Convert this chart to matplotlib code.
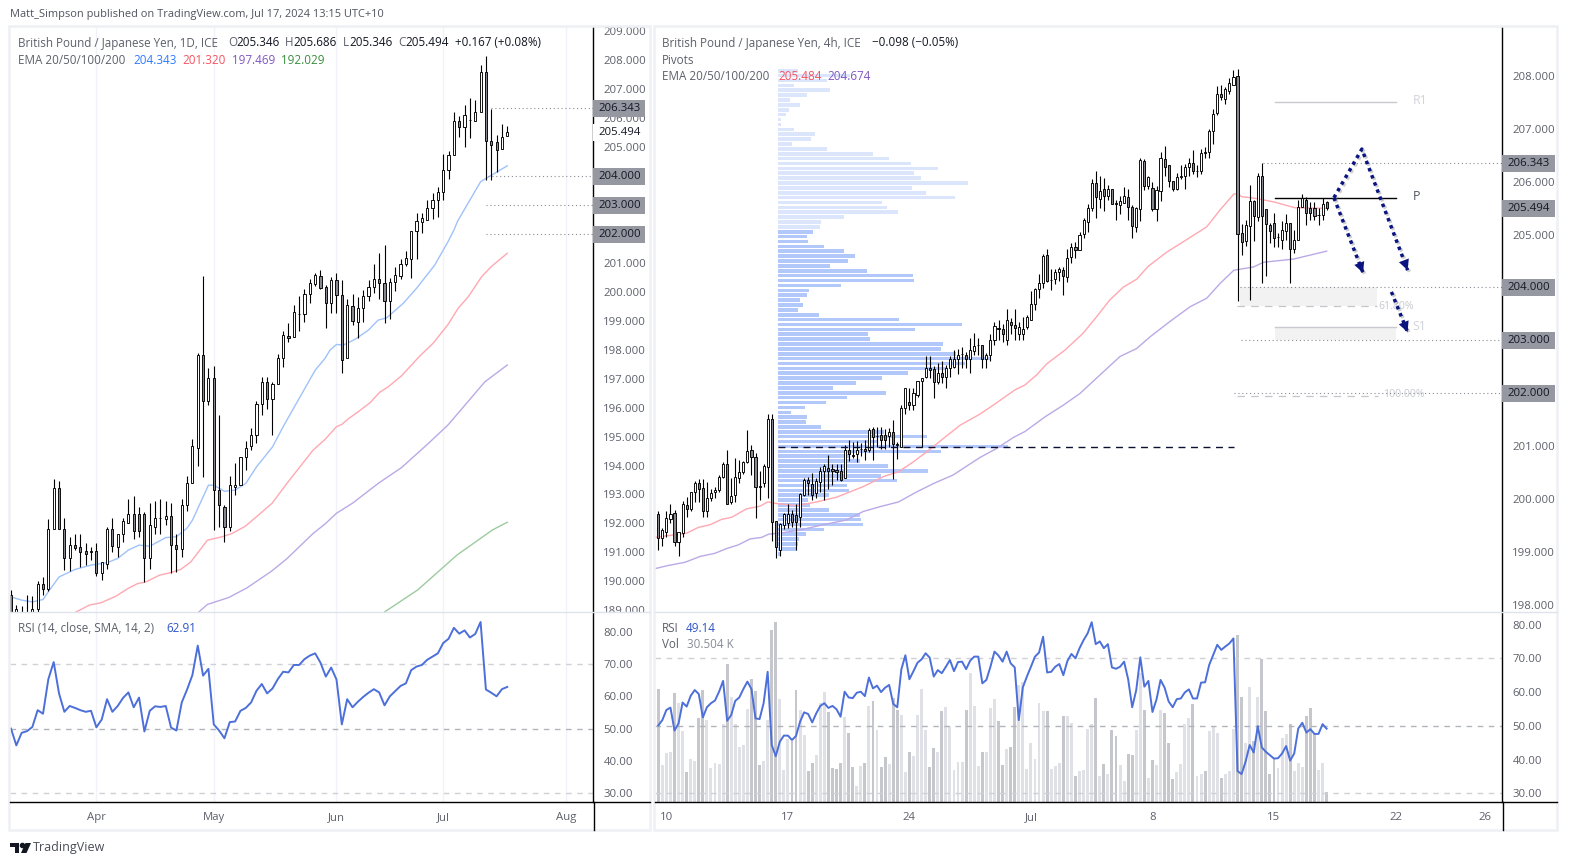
import numpy as np
import matplotlib
matplotlib.use("Agg")
import matplotlib.pyplot as plt
import matplotlib.patheffects as pe
from matplotlib.lines import Line2D
from matplotlib.patches import Rectangle, Polygon
from matplotlib.transforms import Bbox, TransformedBbox, ScaledTranslation

plt.rcParams['font.family'] = ['Open Sans', 'DejaVu Sans']

# daily candles
d_open = [189.47,188.7,188.4,188.5,188.8,189.0,189.85,189.7,191.75,193.2,191.78,190.78,191.23,191.16,190.99,190.99,190.99,190.26,190.56,191.75,
          191.15,191.58,191.99,192.3,192.27,192.27,190.75,191.85,192.13,192.12,192.2,191.23,191.08,192.58,193.34,194.58,197.76,196.2,196.97,193.1,
          192.54,191.85,193.22,193.27,194.27,194.62,195.03,196.1,196.86,196.24,196.76,197.66,198.43,198.4,199.18,199.2,199.9,200.22,200.5,200.11,
          199.56,200.37,199.84,197.66,199.46,198.93,199.39,199.8,200.11,200.39,200.25,199.65,200.29,200.49,200.91,201.08,202.05,202.36,202.44,202.84,
          203.12,203.39,204.16,204.67,205.85,205.66,205.89,205.85,206.16,207.54,205.16,205.12,204.88,205.346]
d_high = [189.65,189.15,189.1,189.47,189.45,189.96,190.1,192.1,193.48,193.44,192.16,191.5,191.61,191.58,191.3,191.16,191.27,190.64,191.85,192.16,
          191.58,192.13,192.79,192.89,192.51,192.34,192.65,192.75,192.79,192.72,192.65,191.61,192.79,193.58,194.89,197.86,200.5,197.32,197.38,195.69,
          192.58,193.61,194.06,194.24,194.79,195.27,196.2,197.0,197.0,196.86,197.8,198.59,198.87,199.5,199.83,200.04,200.39,200.6,200.71,200.18,
          200.46,200.6,200.37,199.7,199.9,199.77,200.02,200.37,200.92,201.29,201.57,200.45,200.8,201.09,201.36,202.05,202.69,202.67,203.13,203.38,
          203.57,204.72,204.82,206.17,206.03,206.41,206.64,206.58,207.79,208.1,206.29,205.37,205.75,205.686]
d_low = [188.5,188.4,188.2,188.2,188.5,188.9,189.5,189.63,191.75,191.77,190.34,190.32,191.03,190.46,190.52,190.69,190.15,190.01,190.39,190.98,
         190.8,191.32,191.99,191.43,191.5,189.93,190.39,191.61,191.61,191.89,190.26,190.29,190.8,192.39,193.34,193.95,193.57,196.06,191.73,191.82,
         191.32,191.71,192.95,193.27,193.81,194.48,194.72,195.7,195.9,195.0,196.76,197.37,198.23,198.4,198.6,198.9,199.58,200.16,200.04,198.7,
         199.21,199.21,197.17,197.66,198.81,198.37,198.93,199.65,199.93,199.7,198.89,199.03,199.99,200.41,200.85,200.45,201.08,201.98,202.44,202.47,
         202.55,203.13,203.85,204.67,205.29,204.97,205.28,205.85,206.16,203.82,203.82,204.11,204.88,205.346]
d_close = [188.8,189.0,188.7,188.7,189.0,189.85,189.7,191.78,193.2,191.77,190.78,191.23,191.12,190.98,190.92,190.96,190.26,190.61,191.75,191.18,
           191.58,192.03,192.3,191.71,191.71,190.75,191.89,192.16,192.13,192.2,191.23,191.08,192.58,193.37,194.62,197.76,196.2,196.97,193.1,192.58,
           191.85,193.27,193.3,194.24,194.58,195.03,196.1,196.86,196.24,196.76,197.66,198.45,198.38,199.26,199.2,199.9,200.25,200.54,200.1,199.56,
           200.37,199.84,197.62,199.49,198.96,199.39,199.8,200.11,200.39,200.25,199.65,200.29,200.53,200.92,201.11,202.05,202.39,202.5,202.84,203.12,
           203.39,204.16,204.67,205.85,205.66,206.05,205.89,206.16,207.54,205.16,205.02,204.85,205.3,205.494]

# daily EMAs, vertices (bar index, price)
d_ema20_x = [0,2,4,6,7,9,12,15,18,20,22,24,26,29,31,33,34,37,38,40,42,44,46,49,51,57,58.85,59.8,61,62.3,64.5,67,68.8,70.4,73.5,76,79.4,81.9,83,83.7,88,89.8,93]
d_ema20 = [189.42,189.31,189.25,189.33,189.6,190.11,190.37,190.52,190.6,190.75,191.04,191.21,191.17,191.47,191.5,191.8,192.07,193.28,193.28,193.07,193.11,193.34,193.91,194.6,195.3,197.25,197.66,197.95,198.14,198.12,198.32,198.64,198.98,199.06,199.56,200.08,200.88,201.69,202.09,202.4,203.76,203.96,204.31]
d_ema50_x = [12.2,14.7,16.9,19.7,21.9,23.7,25.3,27.8,29.9,31.8,33.7,36.8,39.6,41.4,43.9,46.7,48.9,51.7,56.6,58.85,61,62,63.2,65.1,67.3,69.1,70.7,73.2,76.6,79.1,81.9,83.8,85.7,88.2,90,93]
d_ema50 = [188.9,189.14,189.22,189.45,189.71,189.88,189.94,190.17,190.26,190.37,190.63,191.38,191.5,191.61,191.86,192.3,192.65,193.34,194.49,194.86,195.3,195.38,195.57,195.82,196.13,196.49,196.68,197.06,197.74,198.18,198.83,199.39,199.79,200.48,200.83,201.29]
d_ema100_x = [35.2,36.8,40.8,44.2,48.9,51.7,56.6,58.85,61,64.1,68.8,73.2,78.2,81.9,85.1,88.8,93]
d_ema100 = [188.9,189.16,189.4,189.73,190.32,190.74,191.61,191.94,192.31,192.67,193.34,193.89,194.72,195.36,196.05,196.85,197.43]
d_ema200_x = [70,76.2,83.6,90.2,93]
d_ema200 = [188.9,189.66,190.87,191.73,192.0]

d_rsi = [50,44.8,48.7,49.2,50.5,55.7,54.6,65.3,70.6,60.9,55.2,57,56.4,55.7,55.2,55.5,50.4,52.8,59.1,55.2,
         57,59.5,61.2,56.6,59.6,49.1,55.5,56.9,56.7,57,50.3,49.4,58.1,62.1,66.6,75.7,66.4,68.5,51.3,49.4,
         47,52,52.2,55.5,56.4,58.1,61.7,63.8,60.9,62.4,65.3,67.6,67.4,69.7,69.7,71.5,72.6,73.3,70.4,66.1,
         68.9,65.2,51.3,59.1,56.6,58.3,59.8,61.1,62.2,61.2,57.2,60,61.6,63.2,64,68.1,69.2,69.7,71.3,72.3,
         73.3,76.5,77.8,81.2,79.4,80.4,78.2,79.3,83,62.1,61.1,60,62.2,62.91]

d_xticks = [16,38,61,81,104]
d_xlabels = ['Apr','May','Jun','Jul','Aug']

# 4h candles
h_open = [199.7,199.24,199.37,199.61,199.72,199.18,199.35,199.87,199.79,200.11,200.28,200.2,199.75,200.01,200.11,200.15,200.41,200.65,199.92,200.06,
          200.39,200.49,200.69,200.91,200.78,200.23,200.28,200.59,201.49,199.57,199.02,199.49,199.53,199.7,199.68,199.65,200.07,200.34,200.26,200.09,
          200.31,200.51,200.58,200.55,200.53,200.51,200.38,200.92,200.82,200.83,200.94,200.94,200.91,201.3,201.18,201.19,201.19,201.17,201.25,201.02,
          200.96,201.7,201.81,201.76,201.96,202.22,202.29,202.46,202.44,202.19,202.36,202.3,202.46,202.49,202.63,202.72,202.7,202.63,202.78,202.9,
          202.89,202.64,202.7,203.0,203.22,203.19,203.0,203.34,203.27,203.1,203.1,203.23,203.37,203.68,203.95,204.06,204.59,204.13,204.15,204.27,
          204.31,204.19,204.56,204.74,204.7,204.99,205.22,205.49,205.95,205.65,205.84,205.72,205.84,205.58,205.55,205.58,205.69,205.5,205.13,205.46,
          206.37,205.91,205.86,205.46,205.8,206.41,206.29,205.99,205.85,206.07,206.1,206.26,206.33,206.18,206.18,206.55,206.54,206.95,207.29,207.65,
          207.55,207.7,207.82,207.99,205.01,204.86,205.15,205.61,205.32,206.1,205.46,205.16,205.2,204.93,204.88,205.06,205.2,204.72,204.89,205.5,
          205.64,205.48,205.48,205.35,205.35,205.592]
h_high = [199.75,199.43,199.75,199.9,199.78,199.37,199.94,200.02,200.12,200.33,200.36,200.36,200.31,200.17,200.22,200.43,200.69,200.91,200.38,200.77,
          200.72,200.71,201.29,201.01,200.85,200.51,200.64,201.59,201.59,199.57,199.53,199.72,199.89,199.78,199.9,200.09,200.38,200.41,200.47,200.38,
          200.6,200.65,200.82,200.65,200.64,200.64,201.01,201.1,201.06,201.09,201.04,201.1,201.32,201.34,201.35,201.34,201.3,201.32,201.48,201.07,
          201.76,202.08,202.08,202.08,202.21,202.27,202.68,202.68,202.5,202.55,202.59,202.52,202.68,202.81,202.83,202.85,202.77,203.02,203.12,203.02,
          202.89,202.74,203.1,203.34,203.37,203.3,203.57,203.4,203.57,203.34,203.43,203.46,203.91,203.98,204.24,204.62,204.72,204.33,204.33,204.38,
          204.38,204.72,204.83,204.85,205.04,205.29,205.56,206.03,206.18,206.09,206.05,205.92,205.84,205.64,205.72,205.88,205.84,205.55,205.51,206.43,
          206.41,206.09,205.97,205.9,206.54,206.66,206.29,206.0,206.14,206.29,206.31,206.44,206.58,206.29,206.6,206.63,206.97,207.35,207.79,207.81,
          207.77,207.94,208.09,208.11,205.18,205.26,205.92,205.64,206.15,206.33,205.46,205.2,205.39,205.02,205.24,205.37,205.2,205.07,205.63,205.76,
          205.69,205.6,205.59,205.48,205.67,205.62]
h_low = [199.02,199.1,199.27,199.53,199.1,198.9,199.27,199.65,199.75,199.93,199.92,199.65,199.65,199.95,200.0,200.12,200.38,199.9,199.9,199.93,
         200.28,200.45,200.66,200.44,199.63,199.97,200.22,200.0,199.2,198.88,198.9,199.41,199.43,199.46,199.02,199.46,200.04,200.06,199.97,200.0,
         200.12,199.97,200.18,200.25,200.35,200.33,200.38,200.71,200.77,200.68,200.79,200.72,200.88,200.72,200.96,200.94,200.94,200.96,200.36,200.75,
         200.96,201.6,201.67,201.67,201.92,200.96,202.27,202.28,201.9,202.15,202.17,202.08,202.3,202.47,202.34,202.47,202.47,202.36,202.71,202.71,
         202.46,202.46,202.6,202.9,203.0,202.95,202.9,203.1,203.0,203.0,203.0,203.2,203.36,203.55,203.78,203.98,204.09,203.94,204.05,204.11,
         203.85,204.09,204.45,204.55,204.7,204.92,205.04,205.43,205.3,205.48,205.42,205.64,205.57,205.26,205.38,205.58,205.26,204.91,205.04,205.24,
         205.83,205.85,205.43,205.24,205.61,206.1,205.88,205.81,205.83,206.03,205.85,206.1,206.12,206.07,206.12,206.44,206.44,206.7,207.25,207.53,
         207.46,207.65,207.82,203.73,204.59,204.77,203.75,204.86,205.24,204.07,204.2,204.83,204.75,204.75,204.72,204.88,204.06,204.63,204.89,205.5,
         205.16,205.26,205.26,205.16,205.26,205.44]
h_close = [199.24,199.4,199.62,199.7,199.17,199.36,199.89,199.79,200.11,200.28,200.18,199.75,200.0,200.09,200.15,200.4,200.65,199.9,200.04,200.4,
           200.49,200.69,200.89,200.78,200.22,200.22,200.61,201.49,199.56,199.07,199.51,199.7,199.7,199.56,199.56,200.08,200.34,200.28,200.07,200.32,
           200.51,200.61,200.51,200.51,200.49,200.35,200.92,200.83,200.8,200.92,200.94,200.89,201.29,201.15,201.18,201.11,201.11,201.25,201.02,201.0,
           201.7,202.08,201.76,201.98,202.21,202.27,202.47,202.42,202.19,202.36,202.3,202.46,202.63,202.64,202.7,202.72,202.64,202.8,202.88,202.9,
           202.64,202.7,203.0,203.25,203.2,203.1,203.36,203.27,203.22,203.23,203.2,203.42,203.68,203.95,204.06,204.58,204.11,204.13,204.27,204.33,
           204.2,204.55,204.74,204.7,204.97,205.25,205.48,205.95,205.69,205.8,205.72,205.84,205.57,205.56,205.61,205.72,205.51,205.15,205.49,206.39,
           205.91,206.07,205.47,205.82,206.43,206.27,205.99,205.85,206.08,206.1,206.26,206.33,206.18,206.18,206.52,206.53,206.95,207.27,207.65,207.58,
           207.73,207.84,207.97,204.99,204.85,205.16,205.61,205.34,206.1,205.34,205.18,205.05,204.91,204.93,205.07,205.2,204.72,204.89,205.5,205.67,
           205.4,205.4,205.34,205.35,205.57,205.494]

h_ema50_x = [-0.8,4.1,7,9.9,12.8,15.6,18.1,21.8,25.1,27,29.2,34.2,39.1,44,50.6,55.6,59.3,63,66.3,70.4,74.5,79.4,82.7,88.1,90.5,93.4,95.9,100.4,104.9,108.2,111.5,114.8,118.1,120.9,125.5,130.9,135.4,138.7,142.1,143.2,144,147.3,152,157.2,165]
h_ema50 = [199.26,199.31,199.34,199.45,199.5,199.6,199.64,199.8,199.85,199.93,199.9,199.86,199.93,200.02,200.22,200.41,200.5,200.69,200.88,201.13,201.38,201.59,201.76,202.05,202.14,202.33,202.54,202.8,203.12,203.43,203.75,203.99,204.14,204.38,204.65,204.91,205.13,205.45,205.75,205.75,205.7,205.67,205.6,205.49,205.48]
h_ema100_x = [-0.8,2.5,6.6,10.3,14,16.9,19.8,22.6,25.5,27.2,30.9,35,40.7,46.5,50.6,54.7,59.3,63.8,68,72.8,77.8,79.4,83.5,87.7,90.5,95.5,100,104.1,108.2,114,118.1,121.4,126.3,131.3,135.4,138.7,142.1,146.9,149.4,156.8,165]
h_ema100 = [198.67,198.73,198.79,198.9,198.96,199.05,199.12,199.23,199.26,199.32,199.35,199.4,199.5,199.59,199.75,199.84,199.93,200.12,200.28,200.44,200.69,200.77,200.94,201.15,201.26,201.54,201.76,201.98,202.27,202.68,202.83,203.05,203.34,203.62,203.78,204.06,204.31,204.37,204.46,204.52,204.67]

h_rsi = [50.1,51.7,54.7,55.4,48.6,50.7,56.9,55.7,58.9,60.6,59.4,52.5,55.5,56.7,57.5,60.1,63.3,51.5,53.2,57.4,
         58.4,60.9,63.1,60.9,52.2,52,56.7,66,44.3,41,45.3,47.1,47.1,45.8,47,51.2,54,53.5,51,53.7,
         55.9,56.7,55.3,55.9,54.9,52.7,60.1,58.4,58.2,59.8,60.1,58.8,64.3,61.1,61.9,60,61.3,62.1,56.5,55.5,
         66.7,70.9,63.8,66.2,68.7,69.7,71.5,70.2,64.6,66.5,65.6,67.5,69.5,66.2,68.9,69,66.8,69.3,70.5,70.5,
         62.6,63.6,67.5,72,70.8,69,72,68.5,67.3,51.7,61.4,64.6,67.5,70.5,71.7,76.4,65.8,66,67.5,68.3,
         65,69.2,71.3,70,73,75.4,77.4,80.7,74.2,75,73,74.2,67.3,66.9,67.5,69,63.8,55.5,60.6,70.3,
         61.6,63.3,54.1,57.8,63.6,61.3,57.2,55.5,57.9,58.1,59.9,60.8,58.1,58.1,62.8,62.9,68,71,74,72.5,
         73.5,74.4,75.9,36.6,35.7,39.4,44.3,42.1,49.9,43.6,42.3,41.3,40.3,40.4,41.8,44,39.7,41.8,49.2,50.9,
         48,49,47.6,47.6,50.5,49.14]
h_vol = [338,110,146,150,328,296,213,91,128,122,253,335,245,101,116,113,233,413,314,233,
         164,170,278,368,332,110,122,245,515,539,308,95,188,183,335,275,200,93,116,140,
         298,329,269,101,98,116,254,206,104,47,107,116,287,302,215,104,134,113,313,275,
         260,89,149,137,260,338,215,104,161,149,272,284,224,95,119,119,275,386,287,107,
         149,149,281,308,242,110,158,164,284,350,359,98,176,128,296,272,272,98,107,116,
         257,257,236,77,92,95,218,233,311,78,113,83,216,198,111,63,143,140,216,388,
         275,71,125,111,275,266,178,68,89,113,233,251,293,78,83,92,213,228,206,71,
         83,92,218,500,314,178,346,183,316,428,272,83,133,101,191,203,233,92,118,104,
         257,281,206,95,118,31]

h_xticks = [2,32,62,92,122,152,182,204]
h_xlabels = ['10','17','24','Jul','8','15','22','26']

# volume profile rows, top row to bottom row
vp_vol = [20,72,49,16,52,29,12,22,11,8,3,3,16,37,33,14,49,95,111,133,160,136,143,190,134,148,177,104,109,120,66,43,42,
          35,29,30,46,66,77,70,52,89,135,136,63,31,29,22,25,20,41,121,184,137,90,92,165,163,178,212,187,169,130,104,78,55,
          108,69,48,27,13,29,28,43,106,149,100,230,163,72,82,110,150,103,119,69,71,51,30,32,51,82,83,85,46,28,21,20,19,3]
vp_poc = 200.97

# drawn levels
d_levels = [206.343,204.0,203.0,202.0]
d_level_from = [90,89.3,89,89]
h_levels = [206.343,204.0,203.0,202.0]
h_level_from = [149.3,143.6,143.9,142.1]
last_price = 205.494
pivot_r1 = 207.49
pivot_p = 205.68
pivot_s1 = 203.24
pivot_s1_low = 202.99
fib_618 = 203.63
fib_100 = 201.93

# projected path, (bar index, price)
path_x = [166.8,173.7,185.0]
path_y = [205.68,206.6,204.31]
path2_x = [166.8,174.0]
path2_y = [205.68,204.26]
path3_x = [181.0,185.0]
path3_y = [203.9,203.14]

W, H = 1569, 866
GREY = '#5d606b'
DARK = '#131722'
TAG = '#9598a1'
RSI_BLUE = '#4c6fd9'
EMA_BLUE, EMA_RED, EMA_PURPLE, EMA_GREEN = '#9fc2fa', '#ffa8b2', '#bba9e6', '#9ccb9e'
FS = 8.2
LEGEND_FS = 8.4

fig = plt.figure(figsize=(W / 100, H / 100), dpi=100, facecolor='white')


def panel(x0, y0, x1, y1):
    a = fig.add_axes([x0 / W, 1 - y1 / H, (x1 - x0) / W, (y1 - y0) / H])
    for s in a.spines.values():
        s.set_visible(False)
    a.tick_params(length=0, labelsize=FS, labelcolor=GREY)
    a.yaxis.tick_right()
    return a


def label(px, py, s, color=GREY, size=LEGEND_FS, **kw):
    fig.text(px / W, 1 - (py + 1) / H, s, color=color, fontsize=size, va='center', **kw)


def fig_line(x0, y0, x1, y1, color, lw=1.0):
    fig.add_artist(Line2D([x0 / W, x1 / W], [1 - y0 / H, 1 - y1 / H], color=color, lw=lw))


def candles(a, o, h, l, c, width):
    o, h, l, c = map(np.array, (o, h, l, c))
    x = np.arange(len(o))
    a.vlines(x, l, h, color='black', lw=0.8, zorder=3)
    colors = np.where(c >= o, 'white', '#85888f')
    a.bar(x, np.abs(c - o), bottom=np.minimum(o, c), width=width, color=colors,
          edgecolor='black', linewidth=0.65, zorder=4)


def tag(a, value, text, width, half, fc=TAG, tc=DARK):
    a.add_patch(Rectangle((1.0005, value - half), width, 2 * half, transform=a.get_yaxis_transform(),
                          clip_on=False, fc=fc, ec='none', zorder=5))
    a.text(1.0005 + width / 2, value, text, transform=a.get_yaxis_transform(), ha='center', va='center',
           color=tc, fontsize=FS, zorder=6)


def nudge_labels(a, down_px, y0=None, y1=None):
    offset = ScaledTranslation(0, -down_px / 100, fig.dpi_scale_trans)
    for t in a.get_yticklabels():
        t.set_transform(t.get_transform() + offset)
        if y0 is not None:
            t.set_clip_box(TransformedBbox(Bbox([[0, 1 - y1 / H], [1, 1 - y0 / H]]), fig.transFigure))
            t.set_clip_on(True)


# card frames
for x0, x1 in [(9, 650), (654, 1557)]:
    fig.add_artist(Rectangle((x0 / W, 1 - 830 / H), (x1 - x0) / W, 804 / H, transform=fig.transFigure,
                             fill=False, ec='#eff0f5', lw=1.8))

# left price panel
ax_lp = panel(10, 27, 593, 612)
ax_lp.set_xlim(-0.187, 109.07)
ax_lp.set_ylim(188.9, 209.105)
ax_lp.set_xticks(d_xticks)
ax_lp.set_xticklabels([])
ax_lp.grid(axis='x', color='#f2f3f8', lw=1)
ax_lp.set_axisbelow(True)
d_ticks = [v for v in range(189, 210) if v not in (202, 203, 204)]
ax_lp.set_yticks(d_ticks)
ax_lp.set_yticklabels(['%.3f' % v for v in d_ticks])
ax_lp.tick_params(axis='y', pad=7.5)
nudge_labels(ax_lp, 1.2, 27, 612)
ax_lp.plot(d_ema20_x, d_ema20, color=EMA_BLUE, lw=1, zorder=2)
ax_lp.plot(d_ema50_x, d_ema50, color=EMA_RED, lw=1, zorder=2)
ax_lp.plot(d_ema100_x, d_ema100, color=EMA_PURPLE, lw=1, zorder=2)
ax_lp.plot(d_ema200_x, d_ema200, color=EMA_GREEN, lw=1, zorder=2)
candles(ax_lp, d_open, d_high, d_low, d_close, 0.4)
d_shift = 1.3 / 28.95
for v, x in zip(d_levels, d_level_from):
    ax_lp.plot([x, 109.07], [v - d_shift, v - d_shift], color='#8a8d96', lw=0.8, ls=(0, (1, 2.5)), zorder=2)
    tag(ax_lp, v - d_shift, '%.3f' % v, 52 / 583, 8.5 / 28.95)
tag(ax_lp, last_price - d_shift, '%.3f' % last_price, 52 / 583, 8.5 / 28.95, fc='white', tc=DARK)

# left rsi panel
ax_lr = panel(10, 612, 593, 802)
ax_lr.set_xlim(-0.187, 109.07)
ax_lr.set_ylim(27.27, 86.1)
ax_lr.set_xticks(d_xticks)
ax_lr.set_xticklabels(d_xlabels)
ax_lr.tick_params(axis='x', pad=7)
ax_lr.grid(axis='x', color='#f2f3f8', lw=1)
ax_lr.set_axisbelow(True)
ax_lr.set_yticks([30, 40, 50, 60, 70, 80])
ax_lr.set_yticklabels(['%.2f' % v for v in [30, 40, 50, 60, 70, 80]])
ax_lr.tick_params(axis='y', pad=7.5)
ax_lr.axhline(70, color='#cfd1d6', lw=1, ls=(0, (4, 4)))
ax_lr.axhline(50, color='#b2b4ba', lw=1, ls=(0, (4, 4)))
ax_lr.axhline(30, color='#cfd1d6', lw=1, ls=(0, (4, 4)))
ax_lr.plot(np.arange(len(d_rsi)), d_rsi, color=RSI_BLUE, lw=1.4, zorder=3)

# right price panel
ax_rp = panel(655, 27, 1502, 612)
ax_rp.set_xlim(-0.815, 208.3)
ax_rp.set_ylim(197.85, 208.907)
ax_rp.set_xticks([])
h_ticks = [v for v in range(198, 209) if v not in (202, 203, 204)]
ax_rp.set_yticks(h_ticks)
ax_rp.set_yticklabels(['%.3f' % v for v in h_ticks])
ax_rp.tick_params(axis='y', pad=7.5)
nudge_labels(ax_rp, 0.8)
vp_y = np.linspace(208.08, 198.95, len(vp_vol))
vp_colors = ['#dbe5fc'] * 33 + ['#b3c8fa'] * (len(vp_vol) - 33)
ax_rp.barh(vp_y, np.array(vp_vol) / 4.05, left=29.56, height=0.068, color=vp_colors, zorder=1)
ax_rp.plot([29.56, 142.1], [vp_poc, vp_poc], color='#0b1030', lw=1, ls=(0, (5, 4)), zorder=6)
ax_rp.plot(h_ema50_x, h_ema50, color=EMA_RED, lw=1, zorder=2)
ax_rp.plot(h_ema100_x, h_ema100, color=EMA_PURPLE, lw=1, zorder=2)
ax_rp.fill_between([143.6, 177.5], fib_618, 204.0, color='#f2f2f3', lw=0, zorder=0.5)
ax_rp.plot([142.9, 177.5], [fib_618, fib_618], color='#c4c6cc', lw=0.9, ls=(0, (6, 5)), zorder=1)
ax_rp.plot([142.9, 177.7], [fib_100, fib_100], color='#c4c6cc', lw=0.9, ls=(0, (6, 5)), zorder=1)
ax_rp.text(177.9, fib_618, '61.80%', color='#c8cad0', fontsize=7.6, va='center', zorder=1)
ax_rp.text(178.9, fib_100 + 0.03, '100.00%', color='#c8cad0', fontsize=7.6, va='center', zorder=1)
ax_rp.fill_between([152.2, 182.1], pivot_s1_low, pivot_s1, color='#f2f2f3', lw=0, zorder=0.5)
ax_rp.plot([152.2, 182.1], [pivot_s1, pivot_s1], color='#c8cad0', lw=1, zorder=1)
ax_rp.plot([152.2, 182.1], [pivot_r1, pivot_r1], color='#c8cad0', lw=1, zorder=1)
ax_rp.plot([152.2, 182.1], [pivot_p, pivot_p], color='black', lw=1, zorder=2)
ax_rp.text(186.2, pivot_r1 + 0.02, 'R1', color='#d1d4dc', fontsize=FS + 0.6, va='center')
ax_rp.text(186.2, pivot_p + 0.02, 'P', color='#50535e', fontsize=FS + 0.6, va='center')
ax_rp.text(186.2, pivot_s1, 'S1', color='#d1d4dc', fontsize=FS + 0.6, va='center')
candles(ax_rp, h_open, h_high, h_low, h_close, 0.52)
h_shift = 0.7 / 52.9
for v, x in zip(h_levels, h_level_from):
    ax_rp.plot([x, 208.3], [v - h_shift, v - h_shift], color='#8a8d96', lw=0.8, ls=(0, (1, 2.5)), zorder=2)
    tag(ax_rp, v - h_shift, '%.3f' % v, 53 / 847, 8.5 / 52.9)
tag(ax_rp, last_price - h_shift, '%.3f' % last_price, 53 / 847, 8.5 / 52.9)

shadow = [pe.SimpleLineShadow(offset=(1.2, -1.2), shadow_color='#777777', alpha=0.35), pe.Normal()]
for xs, ys in [(path_x, path_y), (path2_x, path2_y), (path3_x, path3_y)]:
    ax_rp.plot(xs, ys, color='#0a1480', lw=2.5, ls=(0, (1, 1.2)), zorder=7, path_effects=shadow)
    ax_rp.annotate('', xy=(xs[-1], ys[-1]),
                   xytext=(xs[-1] - (xs[-1] - xs[-2]) * 0.2, ys[-1] - (ys[-1] - ys[-2]) * 0.2),
                   arrowprops=dict(arrowstyle='-|>', color='#0a1480', lw=0, mutation_scale=19,
                                   shrinkA=0, shrinkB=0), zorder=8)

# right volume and rsi panel
ax_rv = panel(655, 612, 1502, 802)
ax_rv.set_xlim(-0.815, 208.3)
ax_rv.set_ylim(0, 570)
ax_rv.set_yticks([])
ax_rv.set_xticks([])
h_up = np.array(h_close) >= np.array(h_open)
ax_rv.bar(np.arange(len(h_vol)), h_vol, width=0.72, color=np.where(h_up, '#e0e1e6', '#c6c7cc'))

ax_rr = panel(655, 612, 1502, 802)
ax_rr.patch.set_visible(False)
ax_rr.set_xlim(-0.815, 208.3)
ax_rr.set_ylim(27.43, 83.72)
ax_rr.set_xticks(h_xticks)
ax_rr.set_xticklabels(h_xlabels)
ax_rr.tick_params(axis='x', pad=7)
ax_rr.set_yticks([30, 40, 50, 60, 70, 80])
ax_rr.set_yticklabels(['%.2f' % v for v in [30, 40, 50, 60, 70, 80]])
ax_rr.tick_params(axis='y', pad=7.5)
ax_rr.axhline(70, color='#cfd1d6', lw=1, ls=(0, (4, 4)))
ax_rr.axhline(50, color='#b2b4ba', lw=1, ls=(0, (4, 4)))
ax_rr.axhline(30, color='#cfd1d6', lw=1, ls=(0, (4, 4)))
ax_rr.plot(np.arange(len(h_rsi)), h_rsi, color=RSI_BLUE, lw=1.4, zorder=3)

# frame lines
fig_line(10, 612, 650, 612, '#e0e3eb')
fig_line(655, 612, 1557, 612, '#e0e3eb')
fig_line(10, 802, 650, 802, 'black')
fig_line(655, 802, 1557, 802, 'black')
for x in (593.5, 1502.5):
    ax = ax_lp if x < 1000 else ax_rp
    ax.axvline(ax.get_xlim()[1], color='black', lw=1, zorder=2.6, clip_on=False)
    ax2 = ax_lr if x < 1000 else ax_rr
    ax2.axvline(ax2.get_xlim()[1], color='black', lw=1, clip_on=False)
    fig_line(x, 802, x, 830, 'black')

# texts
label(10, 13, 'Matt_Simpson published on TradingView.com, Jul 17, 2024 13:15 UTC+10', color='#50535e', size=7.95)
label(18, 42, 'British Pound / Japanese Yen, 1D, ICE')
for px, s, c in [(228, 'O', GREY), (236, '205.346', DARK), (285, 'H', GREY), (293, '205.686', DARK),
                 (343, 'L', GREY), (349, '205.346', DARK), (398, 'C', GREY), (405, '205.494', DARK),
                 (455, '+0.167 (+0.08%)', DARK)]:
    label(px, 42, s, color=c)
label(18, 59, 'EMA 20/50/100/200')
label(133, 59, '204.343', color='#2f7bff')
label(182, 59, '201.320', color='#f7525f')
label(232, 59, '197.469', color='#7e57c2')
label(281, 59, '192.029', color='#388e3c')
label(18, 627, 'RSI (14, close, SMA, 14, 2)')
label(166, 627, '62.91', color='#2f55c8')

label(662, 42, 'British Pound / Japanese Yen, 4h, ICE')
label(872, 42, '\u22120.098 (\u22120.05%)', color=DARK)
label(662, 59, 'Pivots')
label(662, 76, 'EMA 20/50/100/200')
label(778, 76, '205.484', color='#f7525f')
label(827, 76, '204.674', color='#7e57c2')
label(662, 627, 'RSI')
label(686, 627, '49.14', color='#2f55c8')
label(662, 644, 'Vol')
label(687, 644, '30.504 K', color='#8a8d96')


# footer logo
def px_pts(pts):
    return [(x / W, 1 - y / H) for x, y in pts]


fig.add_artist(Polygon(px_pts([(10, 843), (19, 843), (19, 853), (15, 853), (15, 847), (10, 847)]),
                       transform=fig.transFigure, fc='#131722', ec='none'))
fig.add_artist(Polygon(px_pts([(25.5, 843), (31, 843), (26.5, 853), (21, 853)]),
                       transform=fig.transFigure, fc='#131722', ec='none'))
fig.add_artist(Line2D([21.8 / W], [1 - 845 / H], marker='o', ms=3, color='#131722', lw=0))
label(33, 847, 'TradingView', color='#4a4d57', size=9.0)

fig.savefig('out.png', dpi=100)
